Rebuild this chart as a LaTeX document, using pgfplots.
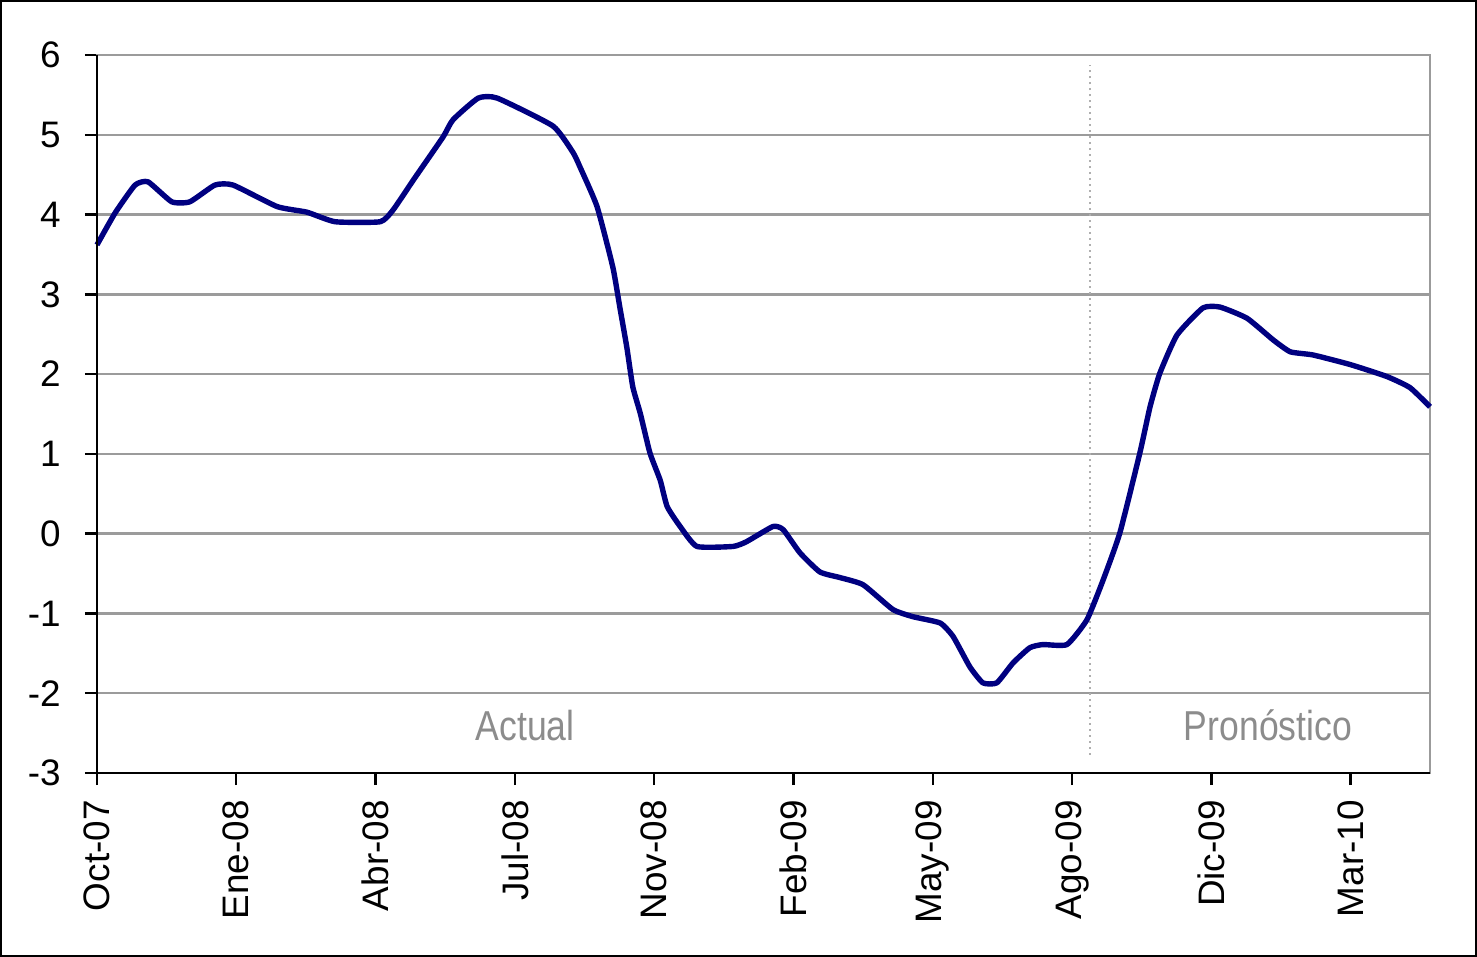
\documentclass[border=0pt]{standalone}
\usepackage{pgfplots}
\pgfplotsset{compat=1.18}
\usepackage{fontspec}
\setmainfont{Liberation Sans}
\newfontfamily\narrowfont[FakeStretch=0.85]{Liberation Sans}
\definecolor{navyline}{RGB}{0,0,128}
\definecolor{gridgray}{RGB}{155,155,155}
\definecolor{txtgray}{RGB}{140,140,140}
\begin{document}
\begin{tikzpicture}
\begin{axis}[
  at={(0,0)}, anchor=south west,
  scale only axis, width=666.5bp, height=359bp,
  xmin=0, xmax=28.71, ymin=-3, ymax=6,
  xtick={0,3,...,27},
  xticklabels={Oct-07,Ene-08,Abr-08,Jul-08,Nov-08,Feb-09,May-09,Ago-09,Dic-09,Mar-10},
  ytick={-3,-2,...,6},
  xtick pos=bottom, ytick pos=left,
  tick align=outside, major tick length=6bp,
  tick style={black, line width=1.2bp},
  ymajorgrids, grid style={gridgray, line width=1.2bp},
  axis line style={gridgray, line width=1.2bp},
  ticklabel style={font=\fontsize{18.5}{20}\selectfont, inner sep=0pt},
  xticklabel style={rotate=90, anchor=east},
  yticklabel style={anchor=east},
  xticklabel shift=7.5bp, yticklabel shift=12bp,
  /pgf/number format/assume math mode=true,
  clip=false,
]
\addplot[gridgray!80, dotted, line width=1bp] coordinates {(21.39,-2.77) (21.39,5.87)};
\addplot[navyline, line width=2.7bp, line join=round, smooth, tension=0.3] coordinates {
(0,3.62) (0.39,4.02) (0.82,4.37) (1.10,4.41) (1.61,4.16) (2.00,4.16) (2.54,4.37) (2.93,4.37)
(3.88,4.10) (4.52,4.03) (5.13,3.91) (6.10,3.91) (6.38,4.06) (6.81,4.43) (7.45,4.97) (7.67,5.19)
(8.21,5.46) (8.62,5.46) (9.82,5.11) (10.25,4.78) (10.40,4.60) (10.77,4.10) (11.11,3.34)
(11.26,2.84) (11.41,2.34) (11.54,1.84) (11.70,1.51) (11.91,1.01) (12.13,0.67) (12.28,0.34)
(12.56,0.09) (12.92,-0.16) (13.70,-0.16) (13.99,-0.10) (14.56,0.09) (14.78,0.05) (15.14,-0.24)
(15.57,-0.48) (16.00,-0.55) (16.50,-0.64) (17.14,-0.95) (17.57,-1.04) (18.16,-1.12) (18.44,-1.29)
(18.80,-1.67) (19.08,-1.87) (19.38,-1.87) (19.73,-1.62) (20.09,-1.43) (20.37,-1.39) (20.89,-1.39)
(21.32,-1.08) (21.67,-0.58) (22.03,0.01) (22.46,1.01) (22.68,1.59) (22.89,2.01) (23.26,2.49)
(23.82,2.83) (24.19,2.84) (24.77,2.70) (25.33,2.43) (25.70,2.28) (26.19,2.24) (26.99,2.12)
(27.78,1.97) (28.28,1.83) (28.71,1.59)
};
\draw[black, line width=1.3bp] (rel axis cs:0,1) -- (rel axis cs:0,0) -- (rel axis cs:1,0);
\node[txtgray, font=\narrowfont\fontsize{21}{24}\selectfont] at (axis cs:9.22,-2.40) {Actual};
\node[txtgray, font=\narrowfont\fontsize{21}{24}\selectfont] at (axis cs:25.22,-2.40) {Pronóstico};
\end{axis}
\draw[black, line width=1.2bp] (-47.9bp,-91.4bp) rectangle (689.4bp,385.9bp);
\end{tikzpicture}
\end{document}
